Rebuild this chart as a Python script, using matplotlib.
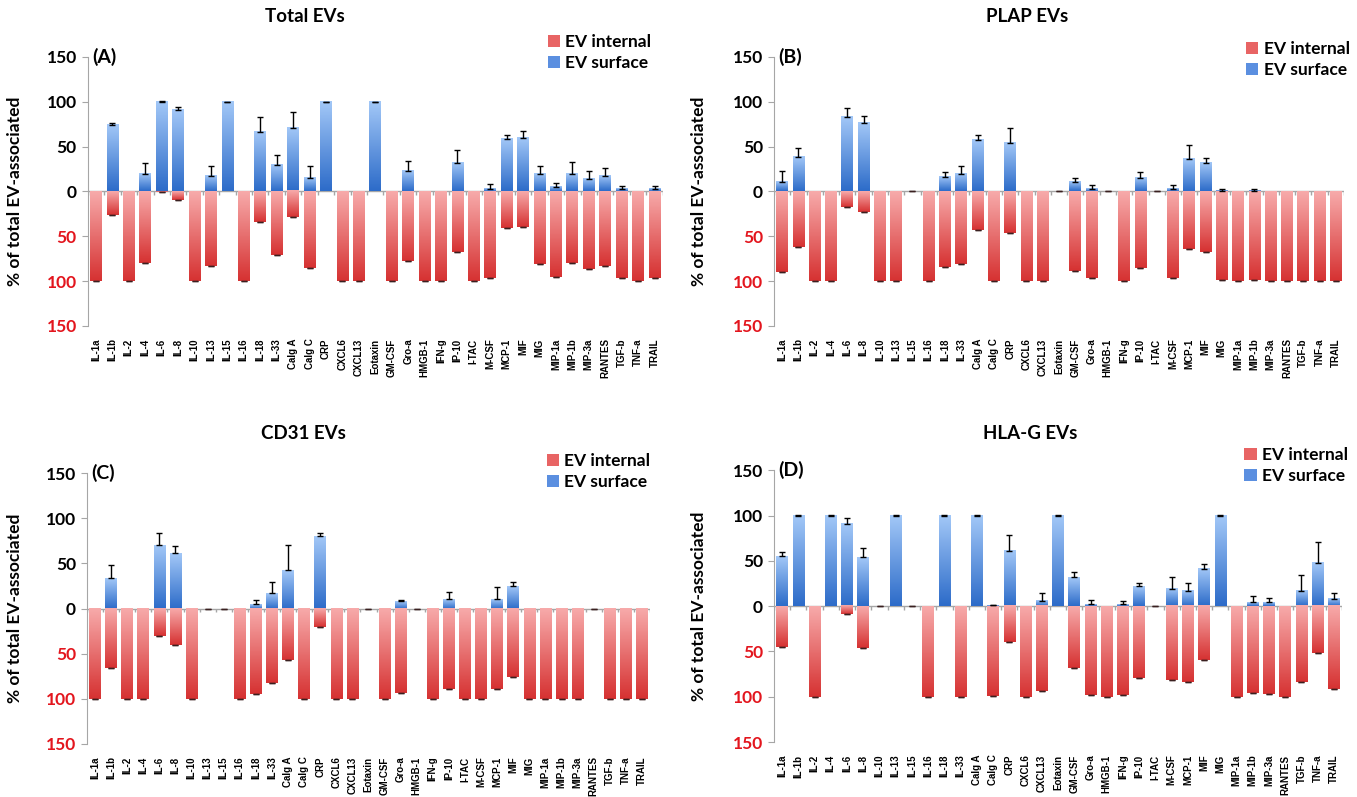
import numpy as np
import matplotlib
matplotlib.use('Agg')
import matplotlib.pyplot as plt
from matplotlib.colors import LinearSegmentedColormap
from matplotlib.patches import Patch

cytokines = ['IL-1a', 'IL-1b', 'IL-2', 'IL-4', 'IL-6', 'IL-8', 'IL-10', 'IL-13', 'IL-15',
             'IL-16', 'IL-18', 'IL-33', 'Calg A', 'Calg C', 'CRP', 'CXCL6', 'CXCL13',
             'Eotaxin', 'GM-CSF', 'Gro-a', 'HMGB-1', 'IFN-g', 'IP-10', 'I-TAC', 'M-CSF',
             'MCP-1', 'MIF', 'MIG', 'MIP-1a', 'MIP-1b', 'MIP-3a', 'RANTES', 'TGF-b',
             'TNF-a', 'TRAIL']

# (A) Total EVs
total_surface = [0, 74, 0, 20, 100, 91, 0, 17, 100, 0, 66, 29, 71, 15, 100, 0, 0, 100,
                 0, 23, 0, 0, 32, 0, 3, 59, 60, 19, 5, 20, 14, 17, 3, 0, 3]
total_err = [0, 2, 0, 12, 0.5, 3, 0, 11, 0.3, 0, 17, 12, 18, 13, 0.3, 0, 0, 0.3,
             0, 11, 0, 0, 14, 0, 5, 4, 8, 9, 5, 13, 9, 9, 3, 0, 3]
total_internal = [100, 26, 100, 80, 1, 9, 100, 83, 0, 100, 34, 71, 29, 85, 0, 100, 100, 0,
                  100, 77, 100, 100, 68, 100, 97, 41, 40, 81, 95, 80, 86, 83, 97, 100, 97]

# (B) PLAP EVs
plap_surface = [11, 38, 0, 0, 83, 76, 0, 0, 0, 0, 16, 19, 57, 0, 54, 0, 0, 0,
                11, 3, 0, 0, 15, 0, 3, 36, 32, 1, 0, 1, 0, 0, 0, 0, 0]
plap_err = [12, 11, 0, 0, 10, 8, 0, 0, 0, 0, 6, 9, 6, 0, 17, 0, 0, 0,
            4, 4, 0, 0, 7, 0, 4, 16, 5, 1.5, 0, 2, 0, 0, 0, 0, 0]
plap_internal = [90, 62, 100, 100, 17, 23, 100, 100, 0, 100, 84, 81, 43, 100, 46, 100, 100, 0,
                 89, 96, 0, 100, 85, 0, 96, 64, 68, 99, 100, 99, 100, 100, 100, 100, 100]

# (C) CD31 EVs
cd31_surface = [0, 34, 0, 0, 70, 61, 0, 0, 0, 0, 5, 17, 43, 0, 80, 0, 0, 0,
                0, 8, 0, 0, 11, 0, 0, 11, 25, 0, 0, 0, 0, 0, 0, 0, 0]
cd31_err = [0, 14, 0, 0, 14, 8, 0, 0, 0, 0, 4, 12, 27, 0, 4, 0, 0, 0,
            0, 1, 0, 0, 7, 0, 0, 13, 4, 0, 0, 0, 0, 0, 0, 0, 0]
cd31_internal = [100, 66, 100, 100, 30, 40, 100, 0, 0, 100, 95, 83, 57, 100, 20, 100, 100, 0,
                 100, 93, 0, 100, 89, 100, 100, 89, 76, 100, 100, 100, 100, 0, 100, 100, 100]

# (D) HLA-G EVs
hlag_surface = [55, 100, 0, 100, 91, 54, 0, 100, 0, 0, 100, 0, 100, 1, 61, 0, 6, 100,
                32, 2, 0, 2, 22, 0, 19, 17, 41, 100, 0, 4, 4, 0, 17, 48, 8]
hlag_err = [5, 0.3, 0, 0.3, 6, 10, 0, 0.3, 0, 0, 0.3, 0, 0.3, 0.5, 17, 0, 9, 0.3,
            6, 5, 0, 4, 3, 0, 13, 8, 5, 0.3, 0, 7, 5, 0, 17, 23, 7]
hlag_internal = [45, 0, 100, 0, 9, 46, 0, 0, 0, 100, 0, 100, 0, 99, 40, 100, 94, 0,
                 68, 98, 100, 98, 79, 0, 82, 84, 60, 0, 100, 96, 97, 100, 84, 52, 92]

blue_cmap = LinearSegmentedColormap.from_list('blue_grad', ['#2d6cc9', '#a2c7f7'])
red_cmap = LinearSegmentedColormap.from_list('red_grad', ['#d63232', '#f7aaaa'])
grad = np.linspace(0, 1, 64).reshape(-1, 1)
gray = '#a6a6a6'


def gradient_fill(ax, bars, cmap):
    for b in bars:
        h = b.get_height()
        if h == 0:
            continue
        x0, y0 = b.get_xy()
        lo, hi = min(y0, y0 + h), max(y0, y0 + h)
        ax.imshow(grad, extent=[x0, x0 + b.get_width(), lo, hi], origin='lower',
                  cmap=cmap, aspect='auto', zorder=2)
        b.set_alpha(0)


def draw_panel(ax, surface, err, internal, letter, legend_anchor, ylabel_x):
    n = len(cytokines)
    x = np.arange(n)
    surface = np.array(surface, float)
    err = np.array(err, float)
    internal = np.array(internal, float)

    ax.axhline(0, color=gray, lw=1, zorder=1)
    ax.vlines(np.arange(n + 1) - 0.5, -4, 0, color=gray, lw=1, zorder=1)

    sb = ax.bar(x, surface, width=0.72, color='#5b8fe0', zorder=2)
    ib = ax.bar(x, -internal, width=0.72, color='#e86464', zorder=2)
    gradient_fill(ax, sb, blue_cmap)
    gradient_fill(ax, ib, red_cmap)

    m = surface > 0
    ax.errorbar(x[m], surface[m], yerr=[np.zeros(m.sum()), err[m]], fmt='none',
                ecolor='black', elinewidth=1, capsize=2.5, capthick=1, zorder=3)
    m2 = (internal > 0) | (surface == 0)
    ax.errorbar(x[m2], -internal[m2], yerr=np.zeros(m2.sum()), fmt='none',
                ecolor='#3a2020', elinewidth=1, capsize=2.5, capthick=1, zorder=3)

    ax.set_xlim(-0.5, n - 0.5)
    ax.set_ylim(-150, 150)
    ticks = [-150, -100, -50, 0, 50, 100, 150]
    ax.set_yticks(ticks)
    ax.set_yticklabels([str(abs(t)) for t in ticks], fontsize=12.5, fontweight='bold',
                       family='Lato')
    for lab, t in zip(ax.get_yticklabels(), ticks):
        lab.set_color('#e3161e' if t < 0 else 'black')
    ax.tick_params(axis='y', length=4, color=gray, pad=4)

    ax.set_xticks(x)
    ax.set_xticklabels(cytokines, rotation=90, fontsize=7, fontweight='bold',
                       family='Liberation Sans', va='top')
    ax.tick_params(axis='x', length=0, pad=9)

    for s in ['top', 'right', 'bottom']:
        ax.spines[s].set_visible(False)
    ax.spines['left'].set_color(gray)

    ax.set_ylabel('% of total EV-associated', fontsize=12.5, fontweight='bold', family='Lato')
    ax.yaxis.set_label_coords(ylabel_x, 0.5)

    ax.text(0.007, 1.0, letter, transform=ax.transAxes, va='center', ha='left',
            fontsize=14, fontweight='bold', family='Lato')

    handles = [Patch(facecolor='#e86464', label='EV internal'),
               Patch(facecolor='#5b8fe0', label='EV surface')]
    ax.legend(handles=handles, loc='upper right', bbox_to_anchor=legend_anchor,
              frameon=False, prop={'family': 'Lato', 'weight': 'bold', 'size': 12.5},
              handlelength=0.7, handleheight=0.7, handletextpad=0.3, labelspacing=0.3,
              borderpad=0, borderaxespad=0)


fig = plt.figure(figsize=(13.57, 7.97), dpi=100)

axA = fig.add_axes([0.0647, 0.591, 0.4237, 0.3375])
axB = fig.add_axes([0.5704, 0.591, 0.4200, 0.3375])
axC = fig.add_axes([0.0641, 0.0665, 0.4149, 0.340])
axD = fig.add_axes([0.5704, 0.069, 0.4186, 0.341])

draw_panel(axA, total_surface, total_err, total_internal, '(A)', (0.98, 1.085), -0.112)
draw_panel(axB, plap_surface, plap_err, plap_internal, '(B)', (1.01, 1.06), -0.118)
draw_panel(axC, cd31_surface, cd31_err, cd31_internal, '(C)', (1.0, 1.075), -0.114)
draw_panel(axD, hlag_surface, hlag_err, hlag_internal, '(D)', (1.01, 1.085), -0.118)

title_kw = dict(ha='center', va='center', fontsize=13.5, fontweight='bold', family='Lato')
fig.text(0.2248, 0.9787, 'Total EVs', **title_kw)
fig.text(0.757, 0.9787, 'PLAP EVs', **title_kw)
fig.text(0.2233, 0.4555, 'CD31 EVs', **title_kw)
fig.text(0.759, 0.4555, 'HLA-G EVs', **title_kw)

fig.savefig('out.png', dpi=100)
